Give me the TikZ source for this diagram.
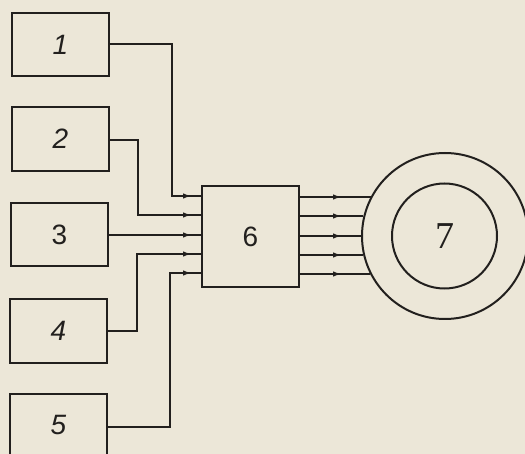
\documentclass[tikz,border=0pt]{standalone}
\usepackage{fontspec}
\setmainfont{Liberation Sans}
\newfontfamily\serifdigits{Liberation Serif}
\usetikzlibrary{arrows.meta,calc}
\definecolor{paper}{RGB}{236,231,216}
\definecolor{ink}{RGB}{34,32,30}
\tikzset{
  unit/.style={draw=ink, line width=2pt, fill=paper, minimum width=97pt,
    minimum height=63pt, inner sep=0pt, font=\fontsize{28}{28}\selectfont, text=ink},
  wire/.style={draw=ink, line width=2pt},
  tip/.style={draw=ink, line width=2pt, -{Latex[length=9pt,width=5.5pt]}},
  ring/.style={circle, draw=ink, line width=2pt, inner sep=0pt},
}
\begin{document}
\begin{tikzpicture}[x=1pt,y=-1pt]
\fill[paper] (0,0) rectangle (525,454);
\useasboundingbox (0,0) rectangle (525,454);
\begin{scope}
\clip (0,0) rectangle (525,454);

% source blocks
\node[unit] (b1) at (60.5,44.5) {\itshape 1};
\node[unit, minimum height=64pt] (b2) at (60.5,139) {\itshape 2};
\node[unit] (b3) at (59.5,234.5) {3};
\node[unit, minimum height=64pt] (b4) at (58.5,331) {\itshape 4};
\node[unit, minimum height=62pt] (b5) at (58.5,425) {\itshape 5};

% central block
\node[unit, minimum height=101pt] (b6) at (250.5,236.5) {6};

% ring
\node[ring, minimum size=166pt] (c7) at (445,236) {};
\node[ring, minimum size=105pt, font=\serifdigits\fontsize{38}{38}\selectfont, text=ink] (c7i) at (444.5,236) {7};

% input points on the left side of block 6
\path (b6.north west) ++(0,11) coordinate (i1)
      (b6.north west) ++(0,30) coordinate (i2)
      (b6.north west) ++(0,50) coordinate (i3)
      (b6.north west) ++(0,69) coordinate (i4)
      (b6.north west) ++(0,88) coordinate (i5);
% output points on the right side of block 6
\path (b6.north east) ++(0,12) coordinate (o1)
      (b6.north east) ++(0,31) coordinate (o2)
      (b6.north east) ++(0,51) coordinate (o3)
      (b6.north east) ++(0,70) coordinate (o4)
      (b6.north east) ++(0,89) coordinate (o5);

% feeds into block 6
\coordinate (k1) at (172,44);
\coordinate (k2) at (138,140);
\coordinate (k4) at (137,331);
\coordinate (k5) at (170,427);
\draw[wire] (b1.east |- k1) -- (k1) |- (i1);
\draw[wire] (b2.east |- k2) -- (k2) |- (i2);
\draw[wire] (b3.east |- i3) -- (i3);
\draw[wire] (b4.east |- k4) -- (k4) |- (i4);
\draw[wire] (b5.east |- k5) -- (k5) |- (i5);
\foreach \p in {i1,i2,i3,i4,i5}
  \draw[tip] ($(\p)+(-24,0)$) -- ($(\p)+(-9,0)$);

% feeds from block 6 to the ring
\draw[wire] (o1) -- (c7.152 |- o1);
\draw[wire] (o2) -- (c7.166 |- o2);
\draw[wire] (o3) -- (c7.180 |- o3);
\draw[wire] (o4) -- (c7.193 |- o4);
\draw[wire] (o5) -- (c7.207 |- o5);
\foreach \p in {o1,o2,o3,o4,o5}
  \draw[tip] ($(\p)+(26,0)$) -- ($(\p)+(42,0)$);
\end{scope}
\end{tikzpicture}
\end{document}
